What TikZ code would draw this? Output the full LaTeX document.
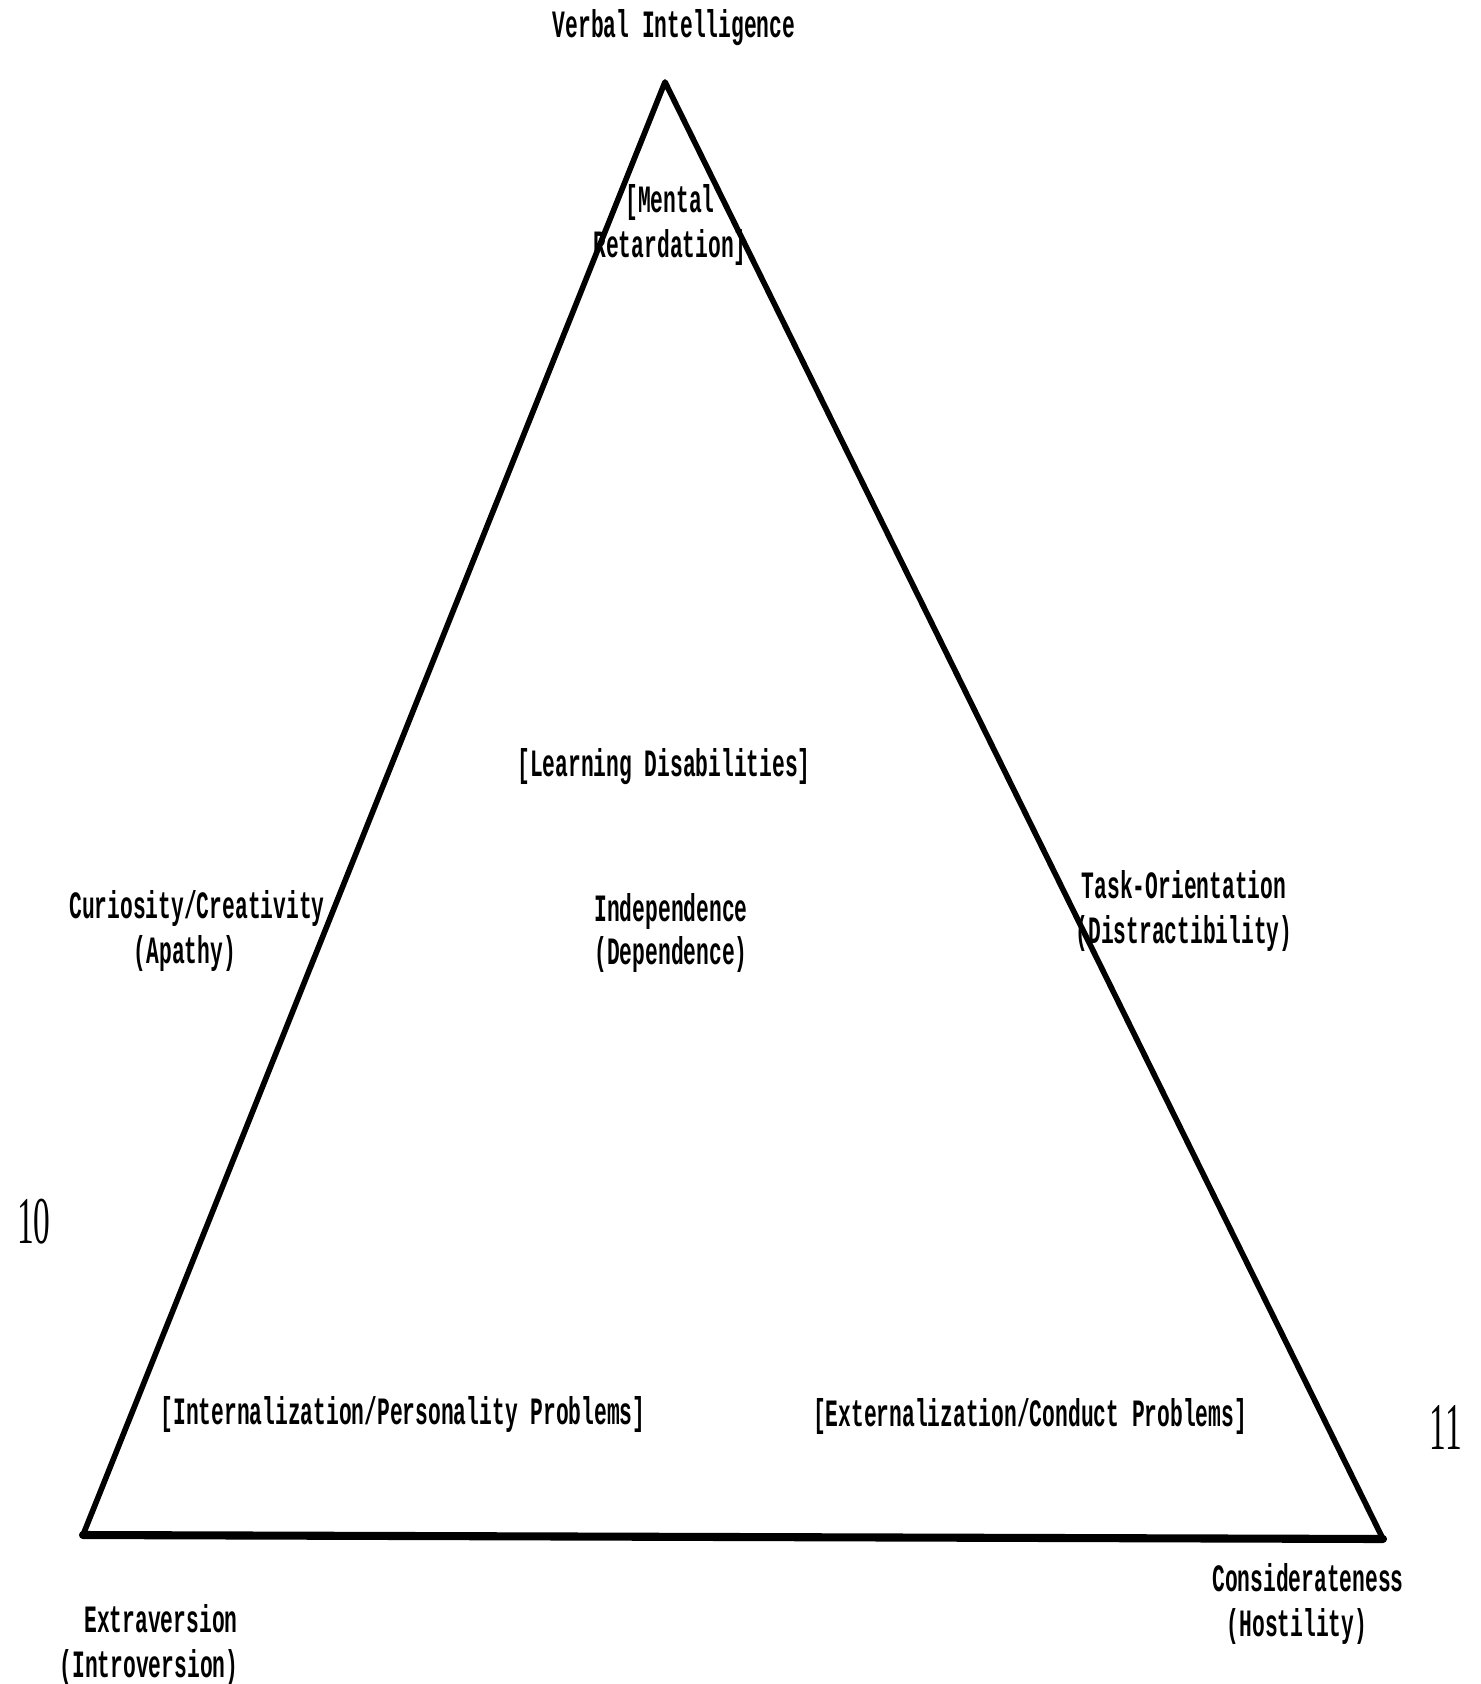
\documentclass[tikz,border=0pt]{standalone}
\usepackage{fontspec}
\setmonofont{Liberation Mono}[FakeStretch=0.55]
\newfontfamily\pagenumfont{Liberation Serif}[FakeStretch=0.5]

\begin{document}
\begin{tikzpicture}[
    lbl/.style={font=\ttfamily\bfseries\fontsize{11}{13}\selectfont, align=center, inner sep=0pt},
    pagenum/.style={font=\pagenumfont\fontsize{19}{19}\selectfont, inner sep=0pt},
    side/.style={line width=1.6pt, line join=round, line cap=round},
    base/.style={line width=2.3pt, line cap=round}]
    \useasboundingbox (0,0) rectangle (14.8,-16.84);

    \coordinate (V) at (6.65,-0.82);
    \coordinate (E) at (0.83,-15.35);
    \coordinate (C) at (13.83,-15.39);
    \draw[side] (E) -- (V) -- (C);
    \draw[base] (E) -- (C);

    \node[lbl] (VI) at (6.74,-0.28) {Verbal Intelligence};
    \node[lbl] (MR) at (6.70,-2.25) {[Mental\\Retardation]};
    \node[lbl] (LD) at (6.64,-7.67) {[Learning Disabilities]};
    \node[lbl] (CC) at (1.97,-9.31) {Curiosity/Creativity\\(Apathy)\hspace*{2.4mm}};
    \node[lbl, font=\ttfamily\bfseries\fontsize{11}{12.2}\selectfont] (ID) at (6.71,-9.33) {Independence\\(Dependence)};
    \node[lbl] (TO) at (11.84,-9.11) {Task-Orientation\\(Distractibility)};
    \node[lbl] (IP) at (4.03,-14.14) {[Internalization/Personality Problems]};
    \node[lbl] (EC) at (10.30,-14.16) {[Externalization/Conduct Problems]};
    \node[lbl] (EI) at (1.61,-16.45) {Extraversion\\(Introversion)\hspace*{2.4mm}};
    \node[lbl] (CH) at (13.08,-16.04) {Considerateness\\(Hostility)\hspace*{2.2mm}};

    \node[pagenum] (P10) at (0.34,-12.22) {10};
    \node[pagenum] (P11) at (14.46,-14.27) {11};
\end{tikzpicture}
\end{document}
